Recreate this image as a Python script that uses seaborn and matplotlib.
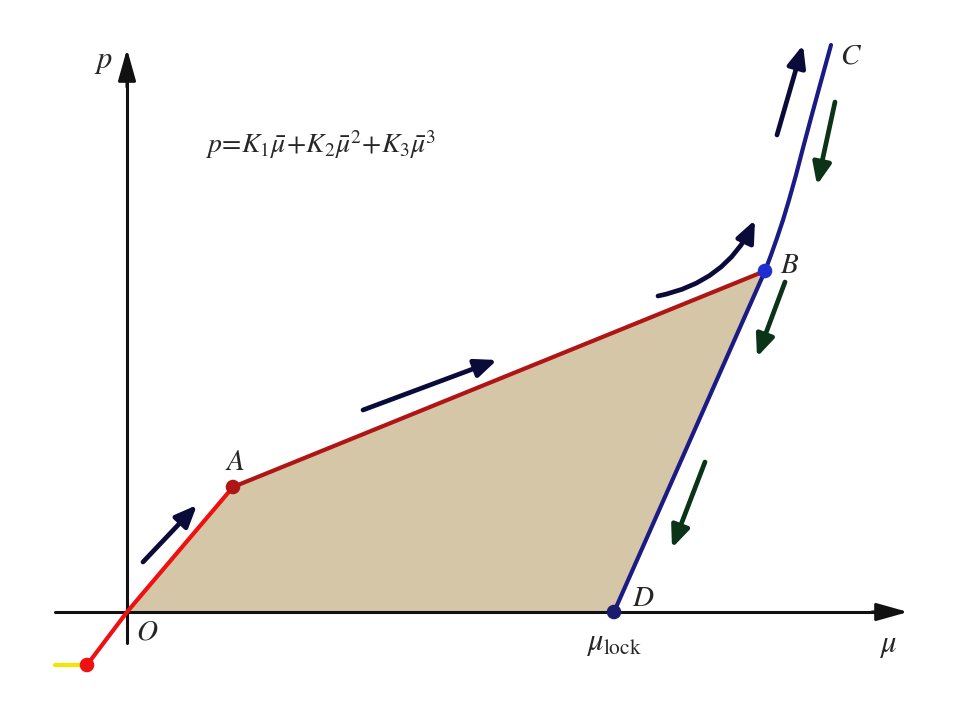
import numpy as np
import pandas as pd
import matplotlib
matplotlib.use("Agg")
import matplotlib.pyplot as plt
from matplotlib.patches import FancyArrowPatch
import seaborn as sns

sns.set_theme(style="white")
plt.rcParams["mathtext.fontset"] = "stix"
plt.rcParams["font.family"] = ["DejaVu Serif"]

# Key points (mu, p) in diagram units
point_names = ["O", "A", "B", "D"]
mu_pts = [0, 106, 638, 487]
p_pts = [0, 125, 341, 0]

# Loading branch O-A (with extension below the origin)
oa_mu = [-40, 0, 106]
oa_p = [-53, 0, 125]
# Branch A-B
ab_mu = [106, 638]
ab_p = [125, 341]
# Unloading / reloading branch D-B-C
dbc_mu = [487, 638, 644, 650, 656, 662, 669, 676, 684, 693, 704]
dbc_p = [0, 341, 357, 374, 392, 412, 437, 464, 494, 527, 567]
# Short yellow segment at the start
yel_mu = [-72, -40]
yel_p = [-53, -53]

fig = plt.figure(figsize=(9.62, 7.16), dpi=100)
ax = fig.add_axes([0, 0, 1, 1])
ax.set_xlim(-127, 835)
ax.set_ylim(-104, 612)
ax.axis("off")

# Shaded area O-A-B-D
ax.fill(mu_pts, p_pts, color="#d5c6a7", zorder=1, lw=0)

# axes arrows
ax.plot([-72, 752], [0, 0], color="#111111", lw=2.2, zorder=2)
ax.annotate("", xy=(781, 0), xytext=(745, 0),
            arrowprops=dict(arrowstyle="-|>,head_length=1.6,head_width=0.45", color="#111111", lw=2.2,
                            shrinkA=0, shrinkB=0), zorder=2)
ax.plot([0, 0], [-31, 530], color="#111111", lw=2.2, zorder=2)
ax.annotate("", xy=(0, 563), xytext=(0, 525),
            arrowprops=dict(arrowstyle="-|>,head_length=1.6,head_width=0.45", color="#111111", lw=2.2,
                            shrinkA=0, shrinkB=0), zorder=2)

sns.lineplot(x=yel_mu, y=yel_p, color="#f5e400", lw=3, ax=ax, sort=False, zorder=3)
sns.lineplot(x=oa_mu, y=oa_p, color="#ee1111", lw=3, ax=ax, sort=False, zorder=3)
sns.lineplot(x=ab_mu, y=ab_p, color="#b01515", lw=3, ax=ax, sort=False, zorder=3)
sns.lineplot(x=dbc_mu, y=dbc_p, color="#1b1b85", lw=3, ax=ax, sort=False, zorder=3)

dot_mu = [-40, 106, 638, 487]
dot_p = [-53, 125, 341, 0]
dot_col = ["#ee1111", "#b01515", "#1f2fd0", "#1b1b70"]
for m, p, c in zip(dot_mu, dot_p, dot_col):
    sns.scatterplot(x=[m], y=[p], color=c, s=110, ax=ax, zorder=4, edgecolor="none")

# direction arrows (start, end, colour)
navy = "#0b0b3a"
green = "#0b3318"
arrows = [
    ((16, 50), (70, 107), navy, 0.0),
    ((236, 202), (370, 252), navy, 0.0),
    ((650, 477), (676, 567), navy, 0.0),
    ((708, 510), (690, 427), green, 0.0),
    ((658, 330), (630, 255), green, 0.0),
    ((578, 150), (545, 64), green, 0.0),
    ((531, 316), (628, 392), navy, 0.25),
]
for (s, e, c, rad) in arrows:
    arr = FancyArrowPatch(s, e, arrowstyle="-|>,head_length=13,head_width=5.5",
                          connectionstyle=f"arc3,rad={rad}", color=c, lw=3.4,
                          mutation_scale=1, zorder=5, shrinkA=0, shrinkB=0)
    ax.add_patch(arr)

ax.text(-24, 552, "$p$", fontsize=22, ha="center", va="center")
ax.text(761, -33, r"$\mu$", fontsize=22, ha="center", va="center")
ax.text(20, -19, "$O$", fontsize=21, ha="center", va="center")
ax.text(108, 150, "$A$", fontsize=21, ha="center", va="center")
ax.text(663, 347, "$B$", fontsize=21, ha="center", va="center")
ax.text(724, 557, "$C$", fontsize=21, ha="center", va="center")
ax.text(516, 14, "$D$", fontsize=21, ha="center", va="center")
ax.text(487, -30, r"$\mu_{\mathrm{lock}}$", fontsize=22, ha="center", va="center")
ax.text(78, 467, r"$p\!=\!K_1\bar{\mu}\!+\!K_2\bar{\mu}^2\!+\!K_3\bar{\mu}^3$",
        fontsize=20, ha="left", va="center")

fig.savefig("out.png", dpi=100)
